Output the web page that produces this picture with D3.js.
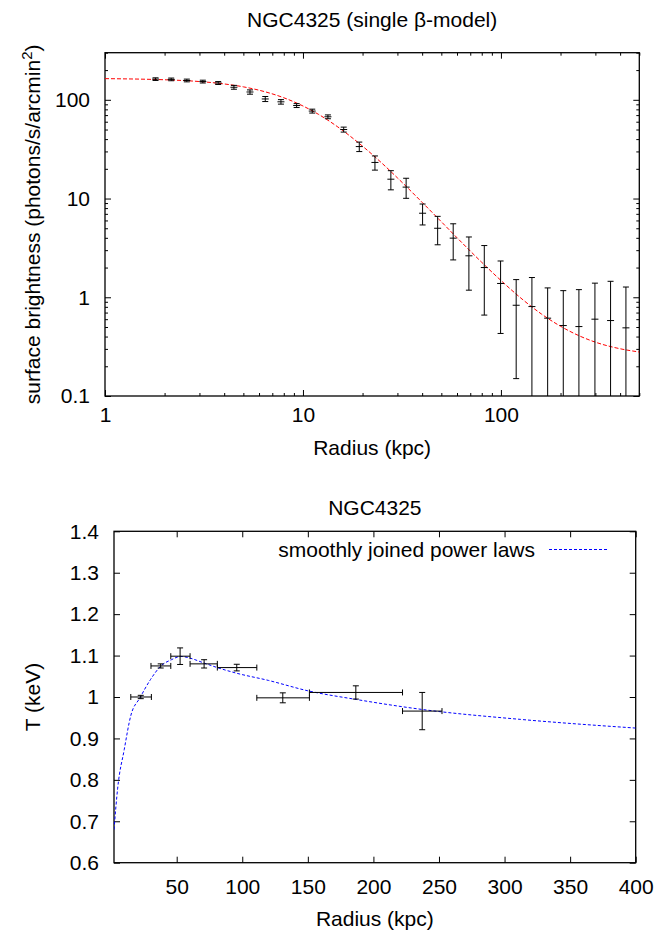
<!DOCTYPE html>
<html>
<head>
    <meta charset="utf-8">
    <title>NGC4325 profiles</title>
    <script src="https://d3js.org/d3.v7.min.js"></script>
    <style>
        body {
            margin: 0;
            background-color: white;
        }
        svg {
            display: block;
            font-family: "Liberation Sans", Arial, sans-serif;
        }
        .frame {
            fill: none;
            stroke: black;
            stroke-width: 1.3px;
        }
        .tick line {
            stroke: black;
            stroke-width: 1px;
        }
        .tick text {
            font-size: 21px;
            fill: black;
        }
        .err {
            stroke: black;
            stroke-width: 1px;
            fill: none;
        }
        .label {
            font-size: 21px;
            fill: black;
        }
    </style>
</head>
<body>
    <svg width="659" height="932"></svg>

    <script>
        // surface brightness profile (top panel)
        const sbRadius = [1.80, 2.16, 2.59, 3.12, 3.73, 4.48, 5.40, 6.45, 7.74, 9.29, 11.14, 13.37, 16.06, 19.25, 23.1,
                          27.8, 33.2, 40.2, 47.9, 57.4, 68.9, 82.4, 99.6, 119.4, 143.4, 172.2, 206.5, 247.7, 298.4, 358, 428];
        const sbValue = [162, 161, 157, 153, 148, 134, 120, 102, 95.4, 87.5, 76.9, 67.3, 50.0, 33.6, 23.2,
                         15.7, 13.05, 7.1, 5.0, 3.97, 2.63, 2.0, 1.38, 0.83, 0.805, 0.614, 0.517, 0.505, 0.60, 0.581, 0.49];
        const sbError = [5, 5, 5, 5, 5, 6, 6, 6, 5, 4, 3.5, 3, 2.9, 3.7, 3.8,
                         3.45, 3.0, 1.7, 1.6, 1.58, 1.45, 1.34, 0.95, 0.68, 0.78, 0.63, 0.65, 0.69, 0.79, 0.87, 0.78];

        // beta-model curve
        const sbModelRadius = [1, 1.5, 2, 3, 4, 5, 6, 8, 10, 12, 15, 20, 25, 30, 40, 50, 60, 80, 100, 130, 160, 200, 250, 300, 400, 500];
        const sbModelValue = [163.8, 162.0, 159.6, 153.1, 144.8, 135.3, 125.1, 104.9, 86.6, 71.1, 53.1, 33.9, 22.9, 16.2, 9.15,
                              5.82, 4.01, 2.26, 1.48, 0.933, 0.678, 0.509, 0.405, 0.351, 0.301, 0.279];

        // temperature profile (bottom panel)
        const tRadius = [22.6, 37.8, 52.6, 70.9, 95.8, 130.9, 186.6, 237.2];
        const tRadiusLow = [15.0, 30.4, 45.5, 60.2, 81.0, 111.1, 151.2, 222.2];
        const tRadiusHigh = [30.7, 45.5, 60.2, 81.0, 111.1, 151.2, 222.2, 252.3];
        const tValue = [1.0, 1.075, 1.0985, 1.080, 1.071, 0.998, 1.011, 0.966];
        const tError = [0.004, 0.005, 0.02, 0.01, 0.008, 0.012, 0.016, 0.045];

        const tModelRadius = [2.2, 5, 10, 15, 22, 30, 38, 46, 53, 60, 70, 80, 95, 120, 150, 187, 237, 312, 400];
        const tModelValue = [0.68, 0.78, 0.873, 0.955, 0.998, 1.042, 1.075, 1.09, 1.098, 1.094, 1.083, 1.072, 1.058,
                             1.04, 1.015, 0.994, 0.97, 0.946, 0.925];

        const topXTicks = [1, 10, 100];
        const topYTicks = [0.1, 1, 10, 100];
        const botXTicks = [50, 100, 150, 200, 250, 300, 350, 400];
        const botYTicks = [0.6, 0.7, 0.8, 0.9, 1.0, 1.1, 1.2, 1.3, 1.4];

        const svg = d3.select("svg");

        function minorLog(lo, hi) {
            const out = [];
            for (let d = lo; d < hi; d *= 10) {
                for (let k = 2; k <= 9; k++) out.push(d * k);
            }
            return out;
        }

        function frameAxes(g, x, y, w, h, opt) {
            g.append("g")
             .attr("transform", `translate(0,${h})`)
             .call(d3.axisBottom(x).tickValues(opt.xTicks).tickSize(-6).tickPadding(opt.xPad).tickFormat(opt.xFmt))
             .call(a => a.select(".domain").remove());
            g.append("g")
             .call(d3.axisTop(x).tickValues(opt.xTicks).tickSize(-6).tickFormat(""))
             .call(a => a.select(".domain").remove());
            g.append("g")
             .call(d3.axisLeft(y).tickValues(opt.yTicks).tickSize(-6).tickPadding(15).tickFormat(opt.yFmt))
             .call(a => a.select(".domain").remove());
            g.append("g")
             .attr("transform", `translate(${w},0)`)
             .call(d3.axisRight(y).tickValues(opt.yTicks).tickSize(-6).tickFormat(""))
             .call(a => a.select(".domain").remove());

            if (opt.xMinor) {
                g.append("g").attr("transform", `translate(0,${h})`)
                 .call(d3.axisBottom(x).tickValues(opt.xMinor).tickSize(-3).tickFormat(""))
                 .call(a => a.select(".domain").remove());
                g.append("g")
                 .call(d3.axisTop(x).tickValues(opt.xMinor).tickSize(-3).tickFormat(""))
                 .call(a => a.select(".domain").remove());
            }
            if (opt.yMinor) {
                g.append("g")
                 .call(d3.axisLeft(y).tickValues(opt.yMinor).tickSize(-3).tickFormat(""))
                 .call(a => a.select(".domain").remove());
                g.append("g").attr("transform", `translate(${w},0)`)
                 .call(d3.axisRight(y).tickValues(opt.yMinor).tickSize(-3).tickFormat(""))
                 .call(a => a.select(".domain").remove());
            }

            g.append("rect")
             .attr("class", "frame")
             .attr("width", w)
             .attr("height", h);
        }

        // ---------- top panel ----------
        const m1 = { left: 105, top: 52.7, right: 639.3, bottom: 396 };
        const w1 = m1.right - m1.left, h1 = m1.bottom - m1.top;
        const g1 = svg.append("g").attr("transform", `translate(${m1.left},${m1.top})`);

        const x1 = d3.scaleLog().domain([1, 500]).range([0, w1]);
        const y1 = d3.scaleLog().domain([0.1, 300]).range([h1, 0]);

        g1.append("clipPath").attr("id", "clip1")
          .append("rect").attr("width", w1).attr("height", h1);

        frameAxes(g1, x1, y1, w1, h1, {
            xTicks: topXTicks, yTicks: topYTicks,
            xMinor: minorLog(1, 500).filter(v => v <= 500),
            yMinor: minorLog(0.1, 300).filter(v => v <= 300),
            xFmt: d3.format("~g"), yFmt: d3.format("~g"), xPad: 11
        });

        const sb = sbRadius.map((r, i) => ({ r: r, v: sbValue[i], e: sbError[i] }));
        const sbModel = sbModelRadius.map((r, i) => ({ r: r, v: sbModelValue[i] }));

        const p1 = g1.append("g").attr("clip-path", "url(#clip1)");

        p1.append("path")
          .datum(sbModel)
          .attr("fill", "none")
          .attr("stroke", "#ff0000")
          .attr("stroke-width", 1)
          .attr("stroke-dasharray", "4,2")
          .attr("d", d3.line().x(d => x1(d.r)).y(d => y1(d.v)).curve(d3.curveMonotoneX));

        const lowY = v => v > 0 ? y1(v) : h1 + 10;

        const eb = p1.selectAll(".sb").data(sb).enter().append("g").attr("class", "err");
        eb.append("line")
          .attr("x1", d => x1(d.r)).attr("x2", d => x1(d.r))
          .attr("y1", d => y1(d.v + d.e)).attr("y2", d => lowY(d.v - d.e));
        eb.append("line")
          .attr("x1", d => x1(d.r) - 3).attr("x2", d => x1(d.r) + 3)
          .attr("y1", d => y1(d.v + d.e)).attr("y2", d => y1(d.v + d.e));
        eb.append("line")
          .attr("x1", d => x1(d.r) - 3).attr("x2", d => x1(d.r) + 3)
          .attr("y1", d => lowY(d.v - d.e)).attr("y2", d => lowY(d.v - d.e));
        eb.append("line")
          .attr("x1", d => x1(d.r) - 3.5).attr("x2", d => x1(d.r) + 3.5)
          .attr("y1", d => y1(d.v)).attr("y2", d => y1(d.v));

        svg.append("text").attr("class", "label")
           .attr("x", m1.left + w1 / 2).attr("y", 27)
           .attr("text-anchor", "middle")
           .text("NGC4325 (single β-model)");

        svg.append("text").attr("class", "label")
           .attr("x", m1.left + w1 / 2).attr("y", 455)
           .attr("text-anchor", "middle")
           .text("Radius (kpc)");

        const yl1 = svg.append("text").attr("class", "label")
           .attr("transform", `translate(40,${m1.top + h1 / 2}) rotate(-90)`)
           .attr("text-anchor", "middle");
        yl1.append("tspan").text("surface brightness (photons/s/arcmin");
        yl1.append("tspan").attr("dy", -8).attr("font-size", "15px").text("2");
        yl1.append("tspan").attr("dy", 8).text(")");

        // ---------- bottom panel ----------
        const m2 = { left: 114, top: 531.3, right: 635.7, bottom: 862.7 };
        const w2 = m2.right - m2.left, h2 = m2.bottom - m2.top;
        const g2 = svg.append("g").attr("transform", `translate(${m2.left},${m2.top})`);

        const x2 = d3.scaleLinear().domain([2.2, 400]).range([0, w2]);
        const y2 = d3.scaleLinear().domain([0.6, 1.4]).range([h2, 0]);

        g2.append("clipPath").attr("id", "clip2")
          .append("rect").attr("width", w2).attr("height", h2);

        frameAxes(g2, x2, y2, w2, h2, {
            xTicks: botXTicks, yTicks: botYTicks,
            xFmt: d3.format("d"), yFmt: d3.format("~g"), xPad: 16
        });

        const tp = tRadius.map((r, i) => ({
            r: r, lo: tRadiusLow[i], hi: tRadiusHigh[i], v: tValue[i], e: tError[i]
        }));
        const tModel = tModelRadius.map((r, i) => ({ r: r, v: tModelValue[i] }));

        const p2 = g2.append("g").attr("clip-path", "url(#clip2)");

        p2.append("path")
          .datum(tModel)
          .attr("fill", "none")
          .attr("stroke", "#0000ff")
          .attr("stroke-width", 1)
          .attr("stroke-dasharray", "3,2")
          .attr("d", d3.line().x(d => x2(d.r)).y(d => y2(d.v)).curve(d3.curveMonotoneX));

        const tb = p2.selectAll(".tp").data(tp).enter().append("g").attr("class", "err");
        tb.append("line")
          .attr("x1", d => x2(d.lo)).attr("x2", d => x2(d.hi))
          .attr("y1", d => y2(d.v)).attr("y2", d => y2(d.v));
        tb.append("line")
          .attr("x1", d => x2(d.r)).attr("x2", d => x2(d.r))
          .attr("y1", d => y2(d.v + d.e)).attr("y2", d => y2(d.v - d.e));
        tb.append("line")
          .attr("x1", d => x2(d.lo)).attr("x2", d => x2(d.lo))
          .attr("y1", d => y2(d.v) - 3).attr("y2", d => y2(d.v) + 3);
        tb.append("line")
          .attr("x1", d => x2(d.hi)).attr("x2", d => x2(d.hi))
          .attr("y1", d => y2(d.v) - 3).attr("y2", d => y2(d.v) + 3);
        tb.append("line")
          .attr("x1", d => x2(d.r) - 3).attr("x2", d => x2(d.r) + 3)
          .attr("y1", d => y2(d.v + d.e)).attr("y2", d => y2(d.v + d.e));
        tb.append("line")
          .attr("x1", d => x2(d.r) - 3).attr("x2", d => x2(d.r) + 3)
          .attr("y1", d => y2(d.v - d.e)).attr("y2", d => y2(d.v - d.e));

        // legend
        svg.append("text").attr("class", "label")
           .attr("x", 535).attr("y", 557)
           .attr("text-anchor", "end")
           .text("smoothly joined power laws");
        svg.append("line")
           .attr("x1", 549).attr("x2", 609)
           .attr("y1", 549.5).attr("y2", 549.5)
           .attr("stroke", "#0000ff")
           .attr("stroke-width", 1)
           .attr("stroke-dasharray", "3,2");

        svg.append("text").attr("class", "label")
           .attr("x", m2.left + w2 / 2).attr("y", 515)
           .attr("text-anchor", "middle")
           .text("NGC4325");

        svg.append("text").attr("class", "label")
           .attr("x", m2.left + w2 / 2).attr("y", 926)
           .attr("text-anchor", "middle")
           .text("Radius (kpc)");

        svg.append("text").attr("class", "label")
           .attr("transform", `translate(40,${m2.top + h2 / 2}) rotate(-90)`)
           .attr("text-anchor", "middle")
           .text("T (keV)");
    </script>
</body>
</html>
